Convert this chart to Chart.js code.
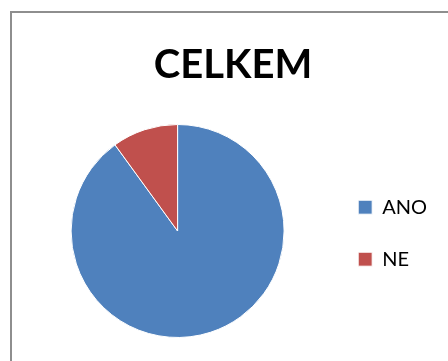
<!DOCTYPE html>
<html>
<head>
<meta charset="utf-8">
<script src="https://cdn.jsdelivr.net/npm/chart.js@4/dist/chart.umd.min.js"></script>
<style>
  html, body { margin: 0; padding: 0; background: #fff; overflow: hidden; }
  #box {
    position: absolute; left: 10px; top: 11px;
    width: 450px; height: 360px;
    border: 2px solid #8e8e8e; border-right: none; border-bottom: none;
  }
  #wrap { position: absolute; left: 13px; top: 13px; width: 435px; height: 348px; }
</style>
</head>
<body>
<div id="box"></div>
<div id="wrap"><canvas id="chart"></canvas></div>
<script>
'use strict';

// data
const categories = ['ANO', 'NE'];
const values = [90, 10];
const colors = ['#4F81BD', '#C0504D'];
const chartTitle = 'CELKEM';

const ctx = document.getElementById('chart').getContext('2d');

let myChart = new Chart(ctx, {
  type: 'pie',
  data: {
    labels: categories,
    datasets: [{
      data: values,
      backgroundColor: colors,
      borderColor: '#ffffff',
      borderWidth: 1
    }]
  },
  options: {
    responsive: true,
    maintainAspectRatio: false,
    animation: false,
    layout: { padding: { left: 16, right: 11, top: 0, bottom: 23 } },
    plugins: {
      title: {
        display: true,
        text: chartTitle,
        color: '#000',
        font: { family: 'Lato', size: 40, weight: 'bold' },
        padding: { top: 28, bottom: 35 }
      },
      legend: {
        position: 'right',
        title: {
          display: true,
          text: ' ',
          font: { size: 12 },
          padding: { top: 50, bottom: 51 }
        },
        labels: {
          color: '#000',
          font: { family: 'Lato', size: 20 },
          boxWidth: 14,
          boxHeight: 14,
          padding: 32
        }
      },
      tooltip: { enabled: false }
    }
  }
});
</script>
</body>
</html>
